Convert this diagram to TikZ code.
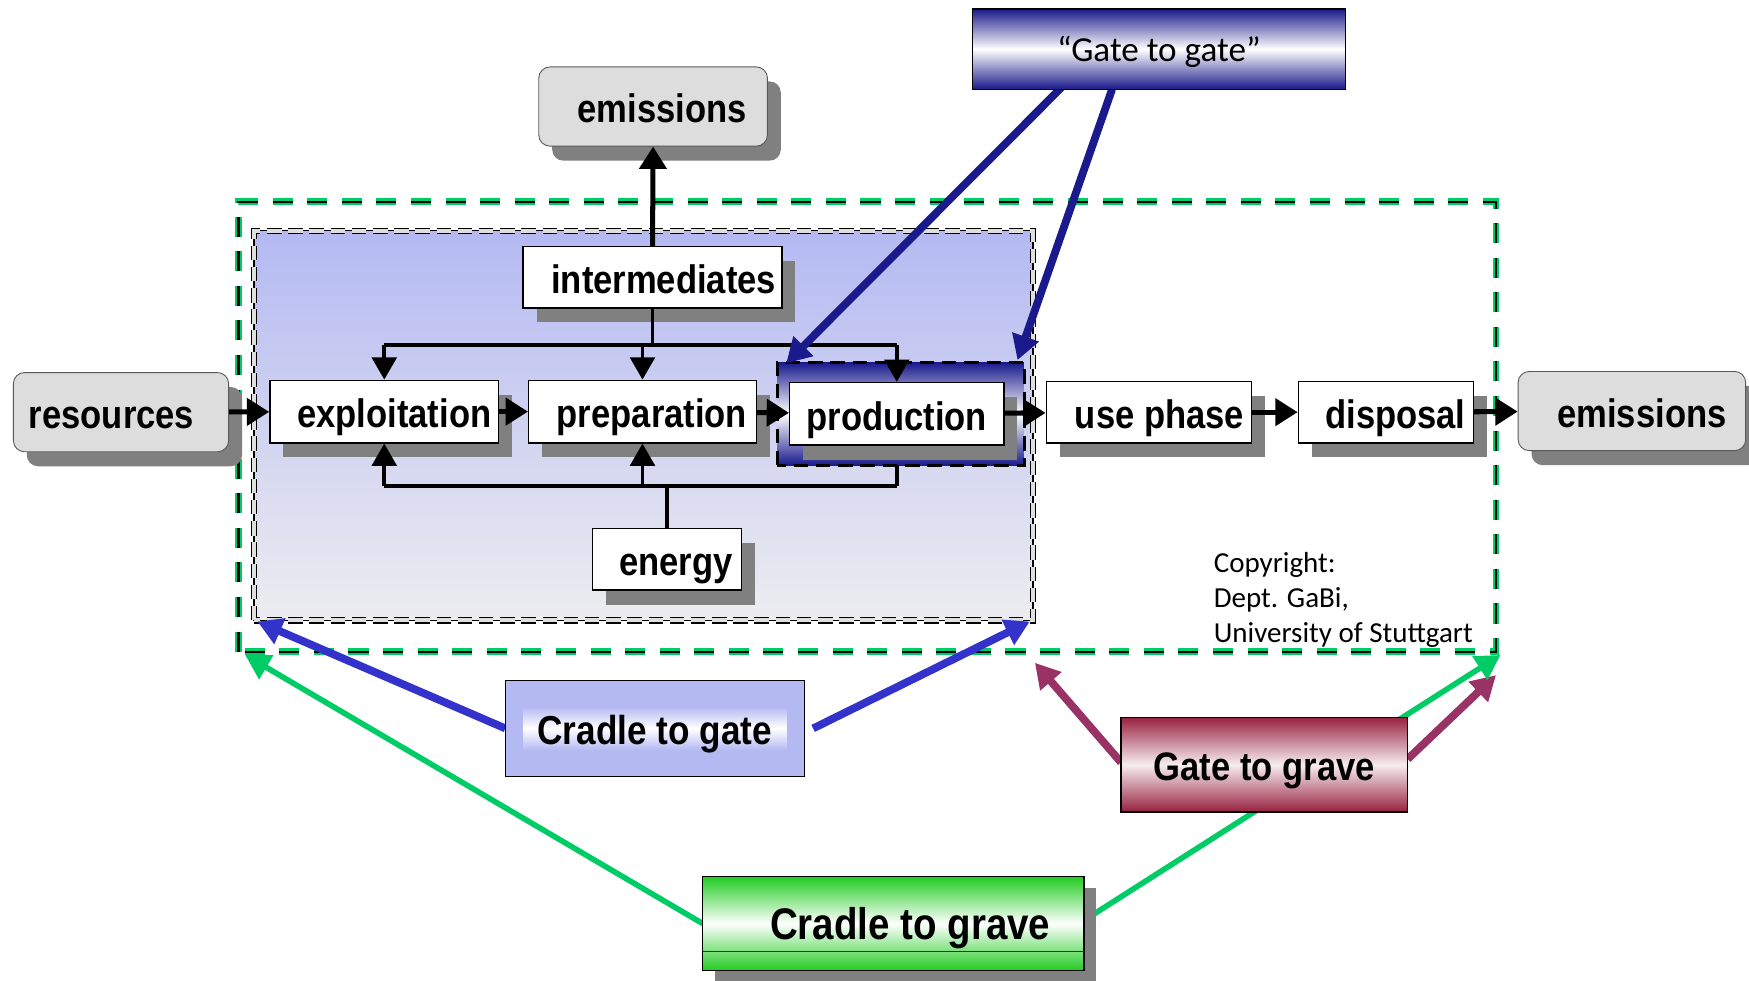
\documentclass[tikz,border=0pt]{standalone}
\usepackage{fontspec}
\usepackage{graphicx}
\newfontfamily\arialfont{Liberation Sans}
\newfontfamily\califont{Carlito}
\usetikzlibrary{arrows.meta,shadows,calc}

\definecolor{shgray}{HTML}{808080}
\definecolor{extgray}{HTML}{DDDDDD}
\definecolor{navyA}{HTML}{1A1A8C}
\definecolor{blueA}{HTML}{3333CC}
\definecolor{greenA}{HTML}{00CC66}
\definecolor{maroonA}{HTML}{993366}
\definecolor{periwinkle}{HTML}{B4B9F2}
\definecolor{paleGray}{HTML}{EDEDF0}
\definecolor{wine}{HTML}{96203F}
\definecolor{leaf}{HTML}{22CC22}

% bold labels are set slightly taller than wide
\newcommand{\tallbf}[1]{\scalebox{1}[1.15]{#1}}
\newcommand{\lpad}[1]{\hspace*{#1pt}}

\tikzset{
  sz/.style 2 args={minimum width=#1pt, minimum height=#2pt, inner sep=0pt},
  boldtext/.style={font=\arialfont\bfseries\fontsize{31}{36}\selectfont, text height=34pt, text depth=5pt},
  shade box/.style={drop shadow={shadow xshift=12pt, shadow yshift=-13pt, fill=shgray, opacity=1}},
  procbox/.style={boldtext, draw=black, line width=1.3pt, fill=white, shade box},
  extbox/.style={boldtext, draw=gray!70!black, line width=0.8pt, fill=extgray,
                 rounded corners=10pt, shade box},
  flow/.style={line width=4.5pt, -{Triangle[length=20pt,width=24pt]}},
  branch/.style={line width=3.5pt},
  branchto/.style={line width=3.5pt, -{Triangle[length=20pt,width=22pt]}},
  scopearrow/.style={line width=#1, -{Triangle[length=22pt,width=24pt]}},
}

\begin{document}
\begin{tikzpicture}[x=1pt,y=-1pt]
\useasboundingbox (0,0) rectangle (1568,879);

% system boundary of the whole life cycle
\node[sz={1127}{403}] (lca) at (777.5,382.5) {};
\draw[greenA, line width=6pt, dash pattern=on 18pt off 13pt]
  (lca.south west) rectangle (lca.north east);
\draw[black, line width=2pt, dash pattern=on 18pt off 13pt]
  (lca.south west) rectangle (lca.north east);

% cradle-to-gate stages
\node[sz={698}{349}, top color=periwinkle, bottom color=paleGray] (stages) at (577,381.5) {};
\draw[black, line width=1.4pt] (stages.south west) rectangle (stages.north east);
\draw[line width=1.1pt, black, double=gray!25, double distance=3.5pt, dash pattern=on 13pt off 6pt]
  (stages.south west) rectangle (stages.north east);

% highlighted gate-to-gate zone
\node[sz={221}{92}, top color=navyA, bottom color=navyA, middle color=white] (prodzone) at (807.5,371) {};

% process boxes
\node[extbox, sz={193}{71}] (resources) at (108.5,369.5) {\tallbf{resources}\lpad{17}};
\node[extbox, sz={205}{71}] (emitop) at (585.5,95.5) {\lpad{16}\tallbf{emissions}};
\node[extbox, sz={204}{71}] (emiright) at (1463,368.5) {\lpad{18}\tallbf{emissions}};
\node[procbox, sz={232}{55}] (intermediates) at (585,248.5) {\lpad{20}\tallbf{intermediates}};
\node[procbox, sz={205}{56}] (exploitation) at (344.5,369) {\lpad{18}\tallbf{exploitation}};
\node[procbox, sz={204}{56}] (preparation) at (576,369) {\lpad{17}\tallbf{preparation}};
\node[procbox, sz={192}{56}] (production) at (804,371) {\tallbf{production}};
\node[procbox, sz={184}{55}] (usephase) at (1030,369.5) {\lpad{19}\tallbf{use phase}};
\node[procbox, sz={157}{55}] (disposal) at (1242.5,369.5) {\lpad{17}\tallbf{disposal}};
\node[procbox, sz={134}{55}] (energy) at (598,501.5) {\lpad{16}\tallbf{energy}};

\draw[black, line width=3pt, dash pattern=on 13pt off 7pt]
  (prodzone.south west) rectangle (prodzone.north east);

% main chain
\draw[flow] (resources) -- (exploitation);
\draw[flow] (exploitation) -- (preparation);
\draw[flow] (preparation) -- (production);
\draw[flow] (production) -- (usephase);
\draw[flow] (usephase) -- (disposal);
\draw[flow] (disposal) -- (emiright);
\draw[flow] (intermediates.north) -- (emitop.south);

% intermediates feed every stage
\coordinate (ibr) at ($(intermediates.south)+(0,33)$);
\draw[branch] (intermediates.south) -- (ibr);
\draw[branch] (exploitation.north |- ibr) -- (production.north |- ibr);
\draw[branchto] (exploitation.north |- ibr) -- (exploitation.north);
\draw[branchto] (preparation.north |- ibr) -- (preparation.north);
\draw[branchto] (production.north |- ibr) -- (production.north);

% energy feeds every stage
\coordinate (ebr) at ($(energy.north)+(0,-38)$);
\draw[branch] (energy.north) -- (ebr);
\draw[branch] (exploitation.south |- ebr) -- (production.south |- ebr);
\draw[branchto] (exploitation.south |- ebr) -- (exploitation.south);
\draw[branchto] (preparation.south |- ebr) -- (preparation.south);
\draw[branch] (production.south |- ebr) -- (production.south |- prodzone.south);

% anchors for the scope pointers
\coordinate (g2gate) at (1039,44);
\coordinate (c2gate) at (587,653);
\coordinate (g2grave) at (1133.5,685.5);
\coordinate (c2grave) at (801,828);

\draw[navyA, scopearrow=7pt] ($(g2gate)+(-81,28)$) -- ($(prodzone.north west)+(8,1)$);
\draw[navyA, scopearrow=7pt] ($(g2gate)+(-42,36)$) -- ($(prodzone.north east)+(-6,-2)$);
\draw[blueA, scopearrow=7pt] ($(c2gate)+(-134,0)$) -- ($(stages.south west)+(3,1)$);
\draw[blueA, scopearrow=7pt] ($(c2gate)+(142,0)$) -- ($(stages.south east)+(-3,1)$);
\draw[maroonA, scopearrow=7pt] ($(g2grave)+(-128.5,-2)$) -- ($(lca.south west)+(714,10)$);
\draw[maroonA, scopearrow=7pt] ($(g2grave)+(128.5,-5)$) -- ($(lca.south east)+(0,21)$);
\draw[greenA, scopearrow=5pt] ($(c2grave)+(-171,0)$) -- ($(lca.south west)+(6,3)$);
\draw[greenA, scopearrow=5pt] ($(c2grave)+(171,-3)$) -- ($(lca.south east)+(4,3)$);

% scope labels, on top of their pointers
\node[sz={334}{72}, draw=black, line width=1.3pt, top color=navyA, bottom color=navyA, middle color=white,
      font=\califont\fontsize{31.5}{36}\selectfont, text height=25pt, text depth=3pt] (g2gatebox) at (g2gate) {“Gate to gate”};
\node[sz={268}{86}, draw=black, line width=1pt, fill=periwinkle] (c2gatebox) at (c2gate) {};
\node[sz={236}{34}, top color=periwinkle, bottom color=periwinkle, middle color=white, boldtext,
      font=\arialfont\bfseries\fontsize{31.5}{36}\selectfont] (c2gateband) at (c2gate) {\tallbf{Cradle to gate}};
\node[sz={257}{85}, draw=black, line width=1.3pt, top color=wine, bottom color=wine,
      middle color=white!92!wine, boldtext] (g2gravebox) at (g2grave) {\tallbf{Gate to grave}};
\node[sz={342}{84}, draw=black, line width=1.3pt, top color=leaf, bottom color=leaf, middle color=white,
      boldtext, font=\arialfont\bfseries\fontsize{34.5}{40}\selectfont,
      drop shadow={shadow xshift=11pt, shadow yshift=-10pt, fill=shgray, opacity=1}] (c2gravebox) at (c2grave) {\lpad{30}\tallbf{Cradle to grave}};
\draw[violet, line width=0.6pt] ($(c2gravebox.south west)+(1,-18)$) -- ($(c2gravebox.south east)+(-1,-18)$);

% copyright note
\node[anchor=north west, align=left, inner sep=0pt,
      font=\califont\fontsize{26}{31.5}\selectfont] (copyright) at (1088,495)
  {Copyright:\\Dept. GaBi,\\University of Stuttgart};
\end{tikzpicture}
\end{document}
